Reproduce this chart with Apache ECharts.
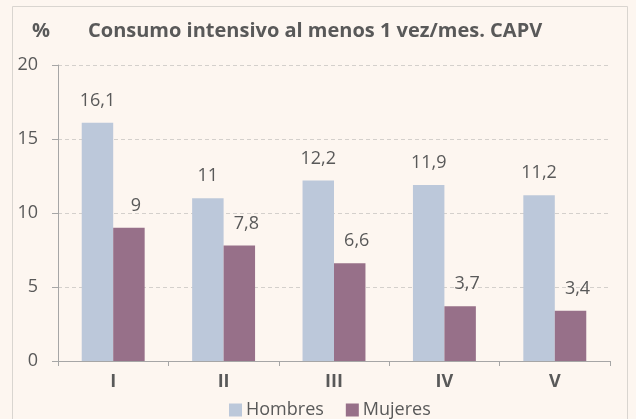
<!DOCTYPE html>
<html>
<head>
<meta charset="utf-8">
<script src="https://cdn.jsdelivr.net/npm/echarts@6/dist/echarts.min.js"></script>
<style>
  html, body { margin: 0; padding: 0; background: #fdf6f0; }
  #chart { width: 636px; height: 419px; }
</style>
</head>
<body>
<div id="chart"></div>
<script>
const categories = ['I', 'II', 'III', 'IV', 'V']
const hombres = [16.1, 11, 12.2, 11.9, 11.2]
const mujeres = [9, 7.8, 6.6, 3.7, 3.4]
const yTicks = [0, 5, 10, 15, 20]

const textColor = '#595959'
const font = 'Open Sans'
const fmt = p => String(p.value).replace('.', ',')

const chart = echarts.init(document.getElementById('chart'))
chart.setOption({
  backgroundColor: '#fdf6f0',
  textStyle: { fontFamily: font },
  title: [
    { text: '%', left: 27, top: 16, textStyle: { fontSize: 20, fontWeight: 'bold', color: textColor, fontFamily: font } },
    { text: 'Consumo intensivo al menos 1 vez/mes. CAPV', left: 83, top: 16, textStyle: { fontSize: 20, fontWeight: 'bold', color: textColor, fontFamily: font } }
  ],
  graphic: [{
    type: 'rect', left: 10, top: 4, silent: true,
    shape: { width: 615, height: 420 },
    style: { fill: 'none', stroke: '#d9d5d0', lineWidth: 1 }
  }],
  legend: {
    bottom: -5, left: 224, itemWidth: 13, itemHeight: 13, itemGap: 22,
    icon: 'rect',
    textStyle: { fontSize: 18, color: textColor, fontFamily: font, padding: [0, 0, 0, -1] },
    data: ['Hombres', 'Mujeres']
  },
  grid: { left: 58, right: 26, top: 65, bottom: 58, containLabel: false },
  xAxis: {
    type: 'category',
    data: categories,
    axisLine: { lineStyle: { color: '#a6a6a6' } },
    axisTick: { show: true, length: 5, lineStyle: { color: '#a6a6a6' } },
    axisLabel: { fontSize: 18, fontWeight: 'bold', color: textColor, margin: 12 }
  },
  yAxis: {
    type: 'value', min: yTicks[0], max: yTicks[yTicks.length - 1], interval: 5,
    axisLine: { show: true, lineStyle: { color: '#a6a6a6' } },
    axisTick: { show: true, length: 6, lineStyle: { color: '#a6a6a6' } },
    axisLabel: { fontSize: 18, color: textColor, margin: 20 },
    splitLine: { lineStyle: { color: '#d4d0cc', type: [4, 3] } }
  },
  series: [
    {
      name: 'Hombres', type: 'bar', data: hombres,
      barGap: '0%', barCategoryGap: '43%',
      itemStyle: { color: '#bcc8da' },
      label: { show: true, position: 'top', distance: 13, fontSize: 18, color: textColor, formatter: fmt }
    },
    {
      name: 'Mujeres', type: 'bar', data: mujeres,
      itemStyle: { color: '#977089' },
      label: { show: true, position: 'top', distance: 13, offset: [7, 0], fontSize: 18, color: textColor, formatter: fmt }
    }
  ]
})
</script>
</body>
</html>
